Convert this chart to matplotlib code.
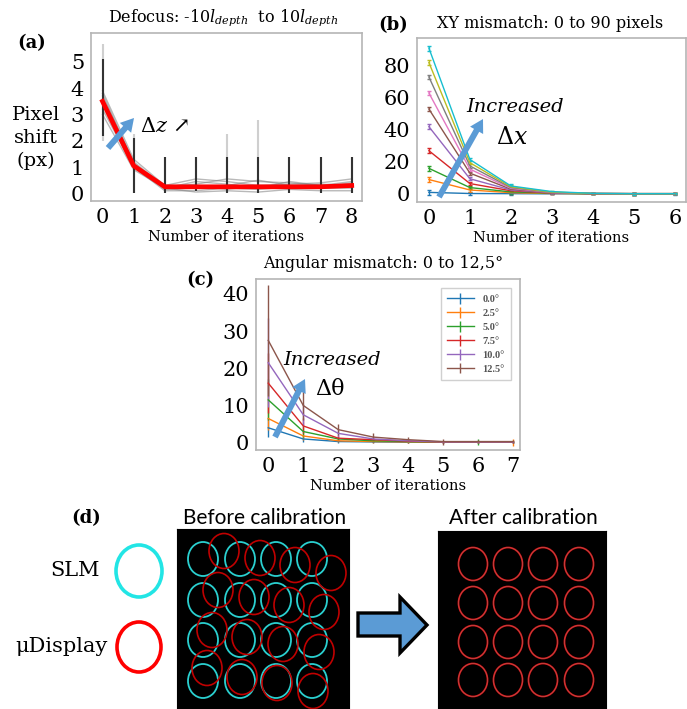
import matplotlib
matplotlib.use("Agg")
import matplotlib.pyplot as plt
from matplotlib.patches import Ellipse, FancyArrow, Polygon

# ---- data -------------------------------------------------------------
# (a) defocus sweep: individual runs (gray), mean (red), error ranges
iters_a = [0, 1, 2, 3, 4, 5, 6, 7, 8]
defocus_runs = [
    [3.9, 1.30, 0.30, 0.55, 0.45, 0.30, 0.35, 0.40, 0.55],
    [3.7, 1.20, 0.25, 0.35, 0.55, 0.45, 0.40, 0.30, 0.45],
    [3.4, 1.10, 0.15, 0.20, 0.30, 0.50, 0.30, 0.35, 0.30],
    [3.2, 1.00, 0.10, 0.10, 0.20, 0.15, 0.25, 0.20, 0.20],
    [3.0, 0.90, 0.20, 0.05, 0.10, 0.05, 0.15, 0.10, 0.10],
    [3.6, 1.05, 0.30, 0.30, 0.15, 0.30, 0.20, 0.25, 0.40],
    [3.8, 1.15, 0.20, 0.45, 0.35, 0.20, 0.45, 0.30, 0.25],
]
defocus_mean = [3.5, 1.05, 0.25, 0.25, 0.25, 0.25, 0.25, 0.25, 0.3]
defocus_lo = [2.2, 0.0, 0.0, 0.1, 0.0, 0.0, 0.0, 0.0, 0.0]
defocus_hi = [5.1, 2.1, 1.4, 1.4, 1.4, 1.4, 1.4, 1.4, 1.4]
defocus_lo_max = [2.0, 0.0, 0.0, 0.0, 0.0, 0.0, 0.0, 0.0, 0.0]
defocus_hi_max = [5.7, 2.25, 1.4, 1.4, 2.25, 2.8, 1.4, 1.4, 1.4]

# (b) XY mismatch sweep
iters_b = [0, 1, 2, 3, 4, 5, 6]
xy_curves = [
    [1, 0.3, 0.2, 0.1, 0.1, 0.1, 0.1],
    [9, 2.5, 0.8, 0.3, 0.2, 0.2, 0.2],
    [16, 4, 1.3, 0.5, 0.2, 0.2, 0.2],
    [27, 6.5, 2, 0.6, 0.2, 0.2, 0.2],
    [42, 9.5, 2.5, 0.7, 0.3, 0.2, 0.2],
    [53, 13, 3, 0.8, 0.3, 0.2, 0.2],
    [63, 15.5, 3.5, 0.9, 0.3, 0.2, 0.2],
    [73, 17.5, 4, 1.0, 0.3, 0.2, 0.2],
    [82, 19.5, 4.5, 1.2, 0.3, 0.2, 0.2],
    [91, 21.5, 5, 1.5, 0.4, 0.2, 0.2],
]
xy_err = [1.5, 1.0, 1.0, 0.4, 0.3, 0.6, 0.5]

# (c) angular mismatch sweep
iters_c = [0, 1, 2, 3, 4, 5, 6, 7]
angle_labels = ["0.0°", "2.5°", "5.0°", "7.5°", "10.0°", "12.5°"]
angle_curves = [
    [4, 1, 0.3, 0.2, 0.1, 0.1, 0.1, 0.1],
    [6.5, 1.8, 0.5, 0.3, 0.2, 0.1, 0.1, 0.1],
    [11.5, 3, 1, 0.5, 0.3, 0.2, 0.2, 0.2],
    [16, 4.5, 1.2, 0.8, 0.4, 0.2, 0.2, 0.2],
    [21.5, 7.5, 2.5, 1, 0.5, 0.2, 0.2, 0.2],
    [27.5, 10, 3.5, 1.5, 0.8, 0.3, 0.3, 0.3],
]
angle_errs = [
    [2.5, 0.8, 0.3, 0.2, 0.1, 0.1, 0.1, 0.1],
    [3, 1, 0.4, 0.3, 0.2, 0.1, 0.1, 0.9],
    [5.5, 1.5, 0.5, 0.3, 0.2, 0.2, 0.8, 0.2],
    [8, 2, 0.8, 0.5, 0.3, 0.2, 0.2, 0.2],
    [12, 3, 1, 0.7, 0.4, 0.2, 0.2, 0.2],
    [15, 4, 1.5, 1, 0.8, 0.8, 0.5, 0.5],
]

# (d) spot centres (image pixels) before / after calibration
slm_cols = [26, 63, 99, 135]
slm_rows = [30, 71, 111, 152]
udisp_before = [
    (47, 22), (83, 29), (118, 36), (154, 44),
    (41, 61), (77, 68), (112, 76), (147, 83),
    (35, 101), (70, 108), (106, 115), (142, 123),
    (30, 139), (65, 148), (100, 154), (136, 162),
]
after_cols = [35, 70, 105, 141]
after_rows = [33, 72, 111, 149]

# ---- layout helpers ---------------------------------------------------
W, H = 687, 709
SERIF = "DejaVu Serif"
plt.rcParams["font.family"] = SERIF
plt.rcParams["mathtext.fontset"] = "dejavuserif"
ARROW_BLUE = "#5B9BD5"


def box(left, top, right, bottom):
    return [left / W, 1 - bottom / H, (right - left) / W, (bottom - top) / H]


def style_axes(ax):
    for sp in ax.spines.values():
        sp.set_color("#b5b5b5")
        sp.set_linewidth(1.2)
    ax.tick_params(length=0, labelsize=15, pad=5)
    ax.set_xlabel("Number of iterations", fontsize=10.5, labelpad=2)


fig = plt.figure(figsize=(W / 100, H / 100), dpi=100)

# (a)
ax_a = fig.add_axes(box(91, 33, 362, 201))
for run in defocus_runs:
    ax_a.plot(iters_a, run, color="#808080", alpha=0.55, lw=1)
ax_a.vlines(iters_a, defocus_lo_max, defocus_hi_max, color="#cfcfcf", lw=1.5)
ax_a.vlines(iters_a, defocus_lo, defocus_hi, color="#333333", lw=1.5)
ax_a.plot(iters_a, defocus_mean, color="red", lw=3.4, zorder=5)
ax_a.set_xlim(-0.37, 8.33)
ax_a.set_ylim(-0.29, 6.1)
ax_a.set_xticks(iters_a)
ax_a.set_yticks([0, 1, 2, 3, 4, 5])
style_axes(ax_a)

# (b)
ax_b = fig.add_axes(box(417, 38, 686, 202))
colors10 = plt.get_cmap("tab10").colors
for i, curve in enumerate(xy_curves):
    ax_b.errorbar(iters_b, curve, yerr=xy_err, color=colors10[i], lw=1,
                  elinewidth=1, capsize=1.5)
ax_b.set_xlim(-0.29, 6.27)
ax_b.set_ylim(-5, 97.3)
ax_b.set_xticks(iters_b)
ax_b.set_yticks([0, 20, 40, 60, 80])
style_axes(ax_b)

# (c)
ax_c = fig.add_axes(box(256, 279, 520, 450))
for i, (curve, err) in enumerate(zip(angle_curves, angle_errs)):
    ax_c.errorbar(iters_c, curve, yerr=err, color=colors10[i], lw=1,
                  elinewidth=1, label=angle_labels[i])
ax_c.set_xlim(-0.35, 7.19)
ax_c.set_ylim(-1.97, 44)
ax_c.set_xticks(iters_c)
ax_c.set_yticks([0, 10, 20, 30, 40])
style_axes(ax_c)
leg = ax_c.legend(loc="upper right", prop={"family": "Liberation Serif", "size": 7.5, "weight": "bold"},
                  handlelength=2.6, labelspacing=0.45, borderpad=0.6, fancybox=False,
                  framealpha=1, edgecolor="#d0d0d0", bbox_to_anchor=(0.985, 0.975))
for t in leg.get_texts():
    t.set_color("#555555")

# (d) images
ax_before = fig.add_axes(box(177, 529, 349, 709))
ax_before.set_facecolor("black")
ax_before.set_xlim(0, 172)
ax_before.set_ylim(180, 0)
for cy in slm_rows:
    for cx in slm_cols:
        ax_before.add_patch(Ellipse((cx, cy), 30, 34, fill=False, ec="#2ad0d0", lw=1.3))
for cx, cy in udisp_before:
    ax_before.add_patch(Ellipse((cx, cy), 30, 35, fill=False, ec="#c00000", lw=1.2))
ax_before.set_xticks([])
ax_before.set_yticks([])

ax_after = fig.add_axes(box(438, 531, 606, 709))
ax_after.set_facecolor("black")
ax_after.set_xlim(0, 168)
ax_after.set_ylim(178, 0)
for cy in after_rows:
    for cx in after_cols:
        ax_after.add_patch(Ellipse((cx, cy), 29, 33, fill=False, ec="#d01515", lw=1.3))
        ax_after.add_patch(Ellipse((cx, cy), 29, 33, fill=False, ec="#b08080", lw=0.4, alpha=0.6))
ax_after.set_xticks([])
ax_after.set_yticks([])

# ---- overlay for labels and arrows (pixel coords) ----------------------
ov = fig.add_axes([0, 0, 1, 1], zorder=10)
ov.set_xlim(0, W)
ov.set_ylim(H, 0)
ov.axis("off")
ov.patch.set_alpha(0)

bold = dict(fontsize=13, fontweight="bold", ha="center", va="center")
ov.text(32, 43, "(a)", **bold)
ov.text(393, 25, "(b)", **bold)
ov.text(200, 280, "(c)", **bold)
ov.text(86, 518, "(d)", **bold)

ov.text(223, 18, r"Defocus: -10$l_{depth}$  to 10$l_{depth}$", fontsize=11.5, ha="center", va="center")
ov.text(550, 24, "XY mismatch: 0 to 90 pixels", fontsize=11.5, ha="center", va="center")
ov.text(383, 263, "Angular mismatch: 0 to 12,5°", fontsize=11.5, ha="center", va="center")

ov.text(36, 138, "Pixel\nshift\n(px)", fontsize=14, ha="center", va="center", linespacing=1.35)
ov.text(140, 127, r"$\Delta z$ ↗", fontsize=15, ha="left", va="center")
ov.text(515, 107, "Increased", fontsize=14, style="italic", ha="center", va="center")
ov.text(512, 137, r"$\Delta x$", fontsize=17, ha="center", va="center")
ov.text(332, 360, "Increased", fontsize=14, style="italic", ha="center", va="center")
ov.text(330, 389, "Δθ", fontsize=16, ha="center", va="center")

for x0, y0, x1, y1 in [(108, 148, 134, 118), (439, 197, 483, 119), (275, 437, 305, 379)]:
    ov.add_patch(FancyArrow(x0, y0, x1 - x0, y1 - y0, width=6, head_width=15,
                            head_length=13, length_includes_head=True,
                            color=ARROW_BLUE, lw=0))

ov.text(265, 518, "Before calibration", family="Lato", fontsize=15, ha="center", va="center")
ov.text(523, 518, "After calibration", family="Lato", fontsize=15, ha="center", va="center")
ov.text(100, 571, "SLM", fontsize=15, ha="right", va="center")
ov.text(108, 646, "μDisplay", fontsize=15, ha="right", va="center")
ov.add_patch(Ellipse((139, 571), 46, 52, fill=False, ec="#22e5e5", lw=2.6))
ov.add_patch(Ellipse((139, 647), 44, 50, fill=False, ec="red", lw=2.6))

ov.add_patch(Polygon([(358, 613), (400, 613), (400, 597), (427, 625), (400, 653),
                      (400, 636), (358, 636)], closed=True, fc=ARROW_BLUE,
                     ec="black", lw=2.4, joinstyle="miter"))

fig.savefig("out.png", dpi=100)
